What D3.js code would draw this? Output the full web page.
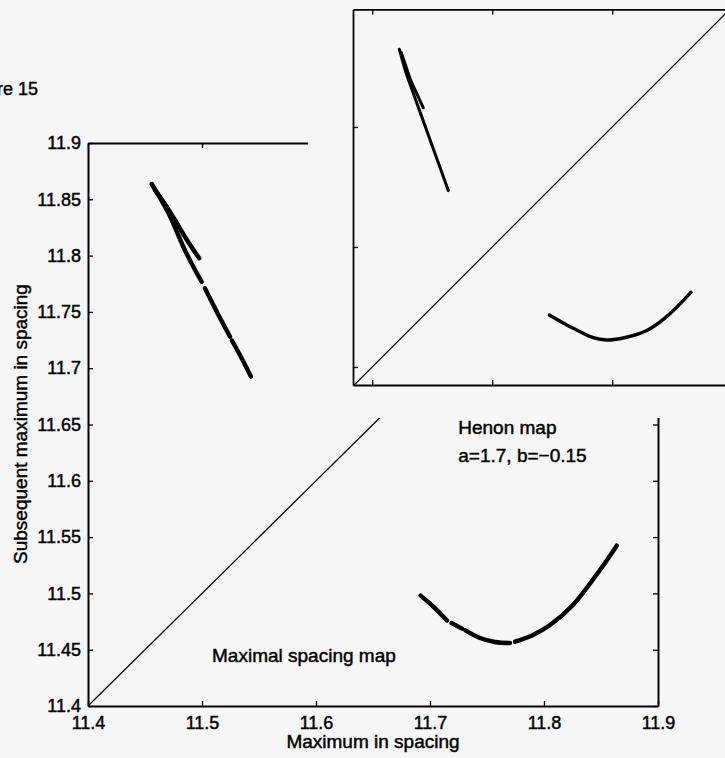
<!DOCTYPE html>
<html>
<head>
<meta charset="utf-8">
<script src="https://cdn.jsdelivr.net/npm/d3@7"></script>
<style>
  html, body { margin: 0; padding: 0; background: #f6f6f6; }
  svg { display: block; }
  text { font-family: "Liberation Sans", Arial, Helvetica, sans-serif; fill: #000; stroke: #000; stroke-width: 0.45px; }
</style>
</head>
<body>
<script>
// ---- Main panel: maximal spacing return map ----
const xTickValues = [11.4, 11.5, 11.6, 11.7, 11.8, 11.9];
const xTickLabels = ["11.4", "11.5", "11.6", "11.7", "11.8", "11.9"];
const yTickValues = [11.4, 11.45, 11.5, 11.55, 11.6, 11.65, 11.7, 11.75, 11.8, 11.85, 11.9];
const yTickLabels = ["11.4", "11.45", "11.5", "11.55", "11.6", "11.65", "11.7", "11.75", "11.8", "11.85", "11.9"];

// upper-left branch (long arm), null = break in the sampled points
const spacingLongArm = [
  [11.4559, 11.8636], [11.4632, 11.8512], [11.4705, 11.8380], [11.4836, 11.8079],
  [11.4924, 11.7901], [11.4997, 11.7768], null,
  [11.5026, 11.7710], [11.5140, 11.7481], [11.5246, 11.7280], null,
  [11.5263, 11.7246], [11.5342, 11.7099], [11.5430, 11.6925]
];
// upper-left branch (short arm)
const spacingShortArm = [
  [11.4588, 11.8583], [11.4675, 11.8458], [11.4763, 11.8316],
  [11.4868, 11.8139], [11.4976, 11.7976]
];
// lower-right parabola
const spacingParabola = [
  [11.6918, 11.4980], [11.7029, 11.4882], [11.7149, 11.4759], null,
  [11.7189, 11.4737], [11.7281, 11.4687], null,
  [11.7311, 11.4672], [11.7439, 11.4604], [11.7570, 11.4568], [11.7702, 11.4559], null,
  [11.7746, 11.4571], [11.7904, 11.4631], [11.8053, 11.4719], [11.8254, 11.4897],
  [11.8491, 11.5208], [11.8638, 11.5424]
];
const mainDiagonal = [[11.4, 11.4], [11.66, 11.66]];

// ---- Inset: Henon map return map ----
const insetTicks = [0, 0.5, 1];
const henonLongArm = [
  [0.113, 1.324], [0.141, 1.225], [0.317, 0.735]
];
const henonShortArm = [
  [0.121, 1.310], [0.160, 1.195], [0.213, 1.080]
];
const henonParabola = [
  [0.738, 0.217], [0.838, 0.161], [0.921, 0.122], [0.977, 0.1125],
  [1.060, 0.124], [1.144, 0.152], [1.227, 0.210], [1.328, 0.311]
];
const insetDiagonal = [[-0.075, -0.075], [1.5, 1.5]];

const W = 725, H = 758;
const svg = d3.select("body").append("svg").attr("width", W).attr("height", H);
svg.append("rect").attr("width", W).attr("height", H).attr("fill", "#f6f6f6");

const x = d3.scaleLinear().domain([11.4, 11.9]).range([88, 658]);
const y = d3.scaleLinear().domain([11.4, 11.9]).range([706, 143]);

const lineMain = d3.line().defined(d => d).x(d => x(d[0])).y(d => y(d[1])).curve(d3.curveCatmullRom);

const main = svg.append("g");

// diagonal y = x
main.append("path").attr("d", d3.line().x(d => x(d[0])).y(d => y(d[1]))(mainDiagonal))
  .attr("fill", "none").attr("stroke", "#000").attr("stroke-width", 1.3);

// data curves
[spacingLongArm, spacingShortArm, spacingParabola].forEach(arr => {
  main.append("path").attr("d", lineMain(arr))
    .attr("fill", "none").attr("stroke", "#000").attr("stroke-width", 4.4)
    .attr("stroke-linecap", "round").attr("stroke-linejoin", "round");
});

function styleAxis(g, width) {
  g.select(".domain").attr("stroke", "#000").attr("stroke-width", width);
  g.selectAll(".tick line").attr("stroke", "#000").attr("stroke-width", 1.3);
  g.selectAll(".tick text").attr("font-size", 18).attr("fill", "#000")
    .attr("font-family", "Liberation Sans, Arial, Helvetica, sans-serif");
}

main.append("g").attr("transform", "translate(0,706)")
  .call(d3.axisBottom(x).tickValues(xTickValues).tickFormat((d, i) => xTickLabels[i])
    .tickSizeInner(-5).tickSizeOuter(0).tickPadding(10))
  .call(g => styleAxis(g, 2));
main.append("g").attr("transform", "translate(88,0)")
  .call(d3.axisLeft(y).tickValues(yTickValues).tickFormat((d, i) => yTickLabels[i])
    .tickSizeInner(-5).tickSizeOuter(0).tickPadding(7))
  .call(g => styleAxis(g, 2));
main.append("g").attr("transform", "translate(0,143)")
  .call(d3.axisTop(x).tickValues(xTickValues).tickFormat("").tickSizeInner(-5).tickSizeOuter(0))
  .call(g => styleAxis(g, 2));
main.append("g").attr("transform", "translate(658,0)")
  .call(d3.axisRight(y).tickValues(yTickValues).tickFormat("").tickSizeInner(-5).tickSizeOuter(0))
  .call(g => styleAxis(g, 2));

// titles and annotations
main.append("text").attr("x", 373).attr("y", 748).attr("text-anchor", "middle")
  .attr("font-size", 19).text("Maximum in spacing");
main.append("text").attr("transform", "translate(27,424) rotate(-90)").attr("text-anchor", "middle")
  .attr("font-size", 19).text("Subsequent maximum in spacing");
main.append("text").attr("x", x(11.5088)).attr("y", y(11.4393))
  .attr("font-size", 19).text("Maximal spacing map");
main.append("text").attr("x", x(11.7248)).attr("y", y(11.6413))
  .attr("font-size", 19).text("Henon map");
main.append("text").attr("x", x(11.7248)).attr("y", y(11.6170))
  .attr("font-size", 19).text("a=1.7, b=\u22120.15");
svg.append("text").attr("x", 38).attr("y", 95).attr("text-anchor", "end")
  .attr("font-size", 18).text("Figure 15");

// ---- Inset panel ----
const inset = svg.append("g");
inset.append("rect").attr("x", 308).attr("y", 0).attr("width", W - 308).attr("height", 418)
  .attr("fill", "#f6f6f6");

const xi = d3.scaleLinear().domain([-0.08, 1.5]).range([353, 732.2]);
const yi = d3.scaleLinear().domain([-0.075, 1.49]).range([385, 9.4]);
const lineStraight = d3.line().x(d => xi(d[0])).y(d => yi(d[1]));
const lineInset = d3.line().x(d => xi(d[0])).y(d => yi(d[1])).curve(d3.curveCatmullRom);

inset.append("path").attr("d", lineStraight(insetDiagonal))
  .attr("fill", "none").attr("stroke", "#000").attr("stroke-width", 1.3);
[henonLongArm, henonShortArm].forEach(arr => {
  inset.append("path").attr("d", lineStraight(arr))
    .attr("fill", "none").attr("stroke", "#000").attr("stroke-width", 3)
    .attr("stroke-linecap", "round").attr("stroke-linejoin", "round");
});
inset.append("path").attr("d", lineInset(henonParabola))
  .attr("fill", "none").attr("stroke", "#000").attr("stroke-width", 3.4)
  .attr("stroke-linecap", "round").attr("stroke-linejoin", "round");

inset.append("g").attr("transform", "translate(0,385)")
  .call(d3.axisBottom(xi).tickValues(insetTicks).tickFormat("").tickSizeInner(-5).tickSizeOuter(0))
  .call(g => styleAxis(g, 1.8));
inset.append("g").attr("transform", "translate(0,9.4)")
  .call(d3.axisTop(xi).tickValues(insetTicks).tickFormat("").tickSizeInner(-5).tickSizeOuter(0))
  .call(g => styleAxis(g, 1.8));
inset.append("g").attr("transform", "translate(353,0)")
  .call(d3.axisLeft(yi).tickValues(insetTicks).tickFormat("").tickSizeInner(-5).tickSizeOuter(0))
  .call(g => styleAxis(g, 1.8));
inset.append("g").attr("transform", "translate(732.2,0)")
  .call(d3.axisRight(yi).tickValues(insetTicks).tickFormat("").tickSizeInner(-5).tickSizeOuter(0))
  .call(g => styleAxis(g, 1.8));
</script>
</body>
</html>
